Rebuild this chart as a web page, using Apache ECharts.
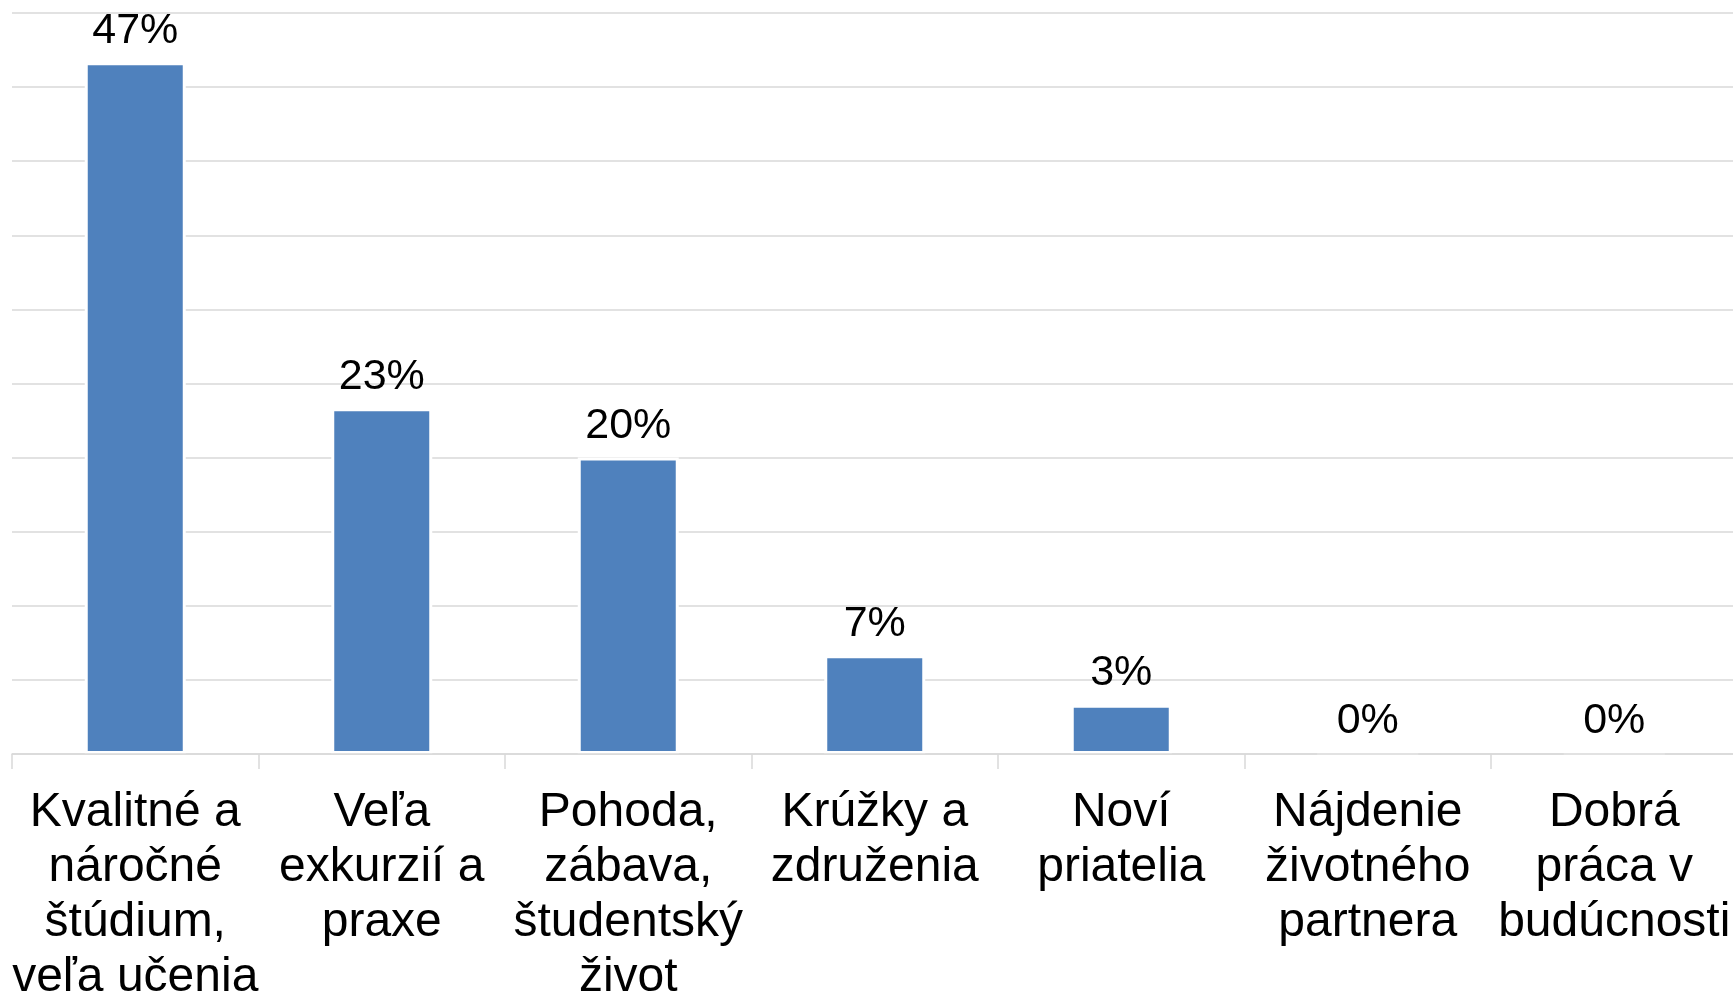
<!DOCTYPE html>
<html>
<head>
<meta charset="utf-8">
<script src="https://cdn.jsdelivr.net/npm/echarts@6/dist/echarts.min.js"></script>
<style>html,body{margin:0;padding:0;background:#fff}#c{width:1733px;height:995px}</style>
</head>
<body>
<div id="c"></div>
<script>
const categories = [
  "Kvalitné a\nnáročné\nštúdium,\nveľa učenia",
  "Veľa\nexkurzií a\npraxe",
  "Pohoda,\nzábava,\nštudentský\nživot",
  "Krúžky a\nzdruženia",
  "Noví\npriatelia",
  "Nájdenie\nživotného\npartnera",
  "Dobrá\npráca v\nbudúcnosti"
];
const values = [46.67, 23.33, 20.0, 6.67, 3.33, 0, 0];

const chart = echarts.init(document.getElementById('c'), null, {renderer: 'canvas'});
chart.setOption({
  animation: false,
  backgroundColor: '#fff',
  grid: {left: 12, top: 13, width: 1725.5, height: 741, containLabel: false, outerBoundsMode: 'none'},
  xAxis: {
    type: 'category',
    data: categories,
    z: 5,
    axisLine: {show: true, lineStyle: {color: '#d9d9d9', width: 1.5}},
    axisTick: {show: true, length: 15, lineStyle: {color: '#d9d9d9', width: 1.5}},
    axisLabel: {
      interval: 0, margin: 31, color: '#000',
      fontFamily: 'Liberation Sans, Arial, sans-serif', fontSize: 48, lineHeight: 55
    }
  },
  yAxis: {
    type: 'value', min: 0, max: 50, interval: 5,
    axisLine: {show: false}, axisTick: {show: false}, axisLabel: {show: false},
    splitLine: {show: true, lineStyle: {color: '#d9d9d9', width: 1.5}}
  },
  series: [{
    type: 'bar',
    data: values,
    barWidth: 101,
    itemStyle: {color: '#4F81BD', borderColor: '#fff', borderWidth: 3},
    label: {
      show: true, position: 'top', distance: 10, color: '#000',
      fontFamily: 'Liberation Sans, Arial, sans-serif', fontSize: 43, lineHeight: 43,
      formatter: p => Math.round(p.value) + '%'
    }
  }]
});
</script>
</body>
</html>
